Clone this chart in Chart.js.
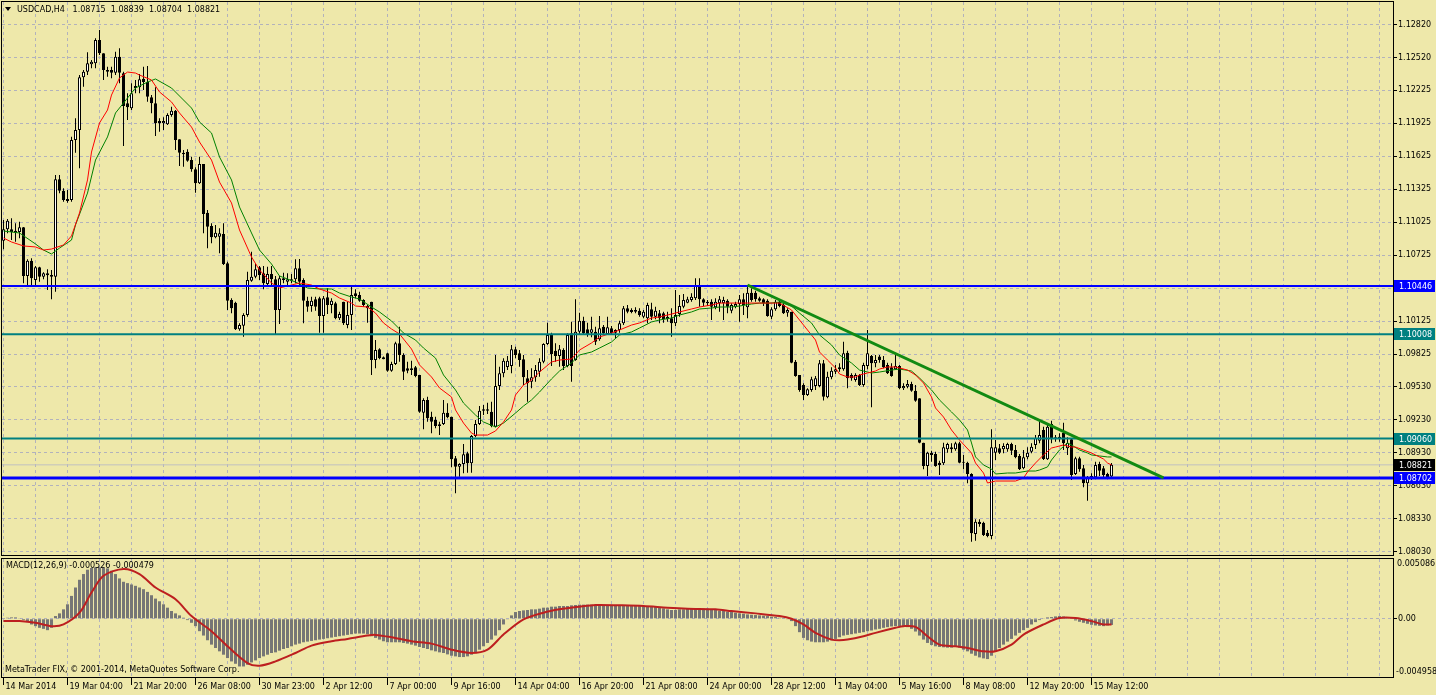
<!DOCTYPE html>
<html>
<head>
<meta charset="utf-8">
<script src="https://cdn.jsdelivr.net/npm/chart.js@4.4.1/dist/chart.umd.min.js"></script>
<style>
  html, body { margin: 0; padding: 0; background: #EEE8AA; }
  #wrap { position: relative; width: 1436px; height: 695px; background: #EEE8AA; overflow: hidden; }
  canvas { position: absolute; left: 0; }
  #priceChart { top: 0; }
  #macdChart { top: 557px; }
</style>
</head>
<body>
<div id="wrap">
  <canvas id="priceChart" width="1436" height="557"></canvas>
  <canvas id="macdChart" width="1436" height="138"></canvas>
</div>
<script>
// USDCAD H4 candles (bar index 0 = first visible bar)
const openPrices = [
  1.10859,1.10962,1.10962,1.10950,1.10938,1.10981,1.10538,1.10677,1.10502,1.10617,
  1.10532,1.10562,1.10547,1.10532,1.11417,1.11313,1.11238,1.11229,1.11774,1.11865,
  1.12344,1.12395,1.12462,1.12472,1.12683,1.12562,1.12411,1.12411,1.12386,1.12532,
  1.12381,1.12108,1.12062,1.12265,1.12253,1.12331,1.12304,1.12162,1.12108,1.11947,
  1.11926,1.11917,1.12002,1.12041,1.11781,1.11659,1.11668,1.11592,1.11508,1.11380,
  1.11556,1.11113,1.10992,1.10890,1.10895,1.10920,1.10653,1.10320,1.10295,1.10053,
  1.10086,1.10183,1.10495,1.10532,1.10617,1.10562,1.10465,1.10556,1.10508,1.10229,
  1.10517,1.10486,1.10508,1.10508,1.10608,1.10502,1.10313,1.10265,1.10326,1.10335,
  1.10174,1.10344,1.10274,1.10290,1.10153,1.10304,1.10092,1.10183,1.10380,1.10365,
  1.10320,1.10244,1.10304,1.09774,1.09871,1.09799,1.09835,1.09677,1.09738,1.09926,
  1.09820,1.09699,1.09699,1.09708,1.09638,1.09295,1.09411,1.09259,1.09229,1.09190,
  1.09192,1.09295,1.09259,1.08881,1.08804,1.08829,1.08926,1.08835,1.09083,1.09192,
  1.09326,1.09313,1.09304,1.09168,1.09538,1.09653,1.09710,1.09720,1.09871,1.09835,
  1.09780,1.09608,1.09577,1.09617,1.09668,1.09759,1.09920,1.10011,1.09859,1.09811,
  1.09865,1.09720,1.10017,1.09774,1.10032,1.10132,1.10053,1.10022,1.10032,1.09963,
  1.10077,1.10011,1.10062,1.10022,1.10047,1.10108,1.10244,1.10229,1.10229,1.10222,
  1.10168,1.10153,1.10235,1.10168,1.10199,1.10199,1.10168,1.10153,1.10108,1.10192,
  1.10259,1.10295,1.10320,1.10335,1.10456,1.10326,1.10304,1.10304,1.10253,1.10290,
  1.10290,1.10313,1.10222,1.10259,1.10283,1.10326,1.10253,1.10386,1.10386,1.10335,
  1.10326,1.10313,1.10168,1.10235,1.10304,1.10274,1.10204,1.10214,1.09759,1.09638,
  1.09547,1.09456,1.09502,1.09538,1.09538,1.09744,1.09435,1.09617,1.09668,1.09708,
  1.09690,1.09841,1.09638,1.09592,1.09638,1.09547,1.09720,1.09811,1.09744,1.09805,
  1.09774,1.09729,1.09708,1.09690,1.09720,1.09517,1.09532,1.09556,1.09495,1.09426,
  1.09022,1.08811,1.08932,1.08920,1.08841,1.08835,1.08963,1.08981,1.08963,1.09017,
  1.08850,1.08841,1.08738,1.08192,1.08304,1.08295,1.08204,1.08174,1.08932,1.08972,
  1.08963,1.08963,1.09011,1.08956,1.08901,1.08790,1.08890,1.08941,1.09002,1.09041,
  1.09138,1.08872,1.09192,1.09071,1.09077,1.09113,1.08972,1.09053,1.08738,1.08881,
  1.08790,1.08653,1.08720,1.08708,1.08829,1.08790,1.08738,1.08715
];
const highPrices = [
  1.11047,1.11056,1.11063,1.11017,1.11032,1.10983,1.10690,1.10699,1.10629,1.10622,
  1.10572,1.10599,1.10592,1.11456,1.11456,1.11335,1.11320,1.11804,1.11972,1.12365,
  1.12411,1.12572,1.12502,1.12699,1.12774,1.12562,1.12441,1.12441,1.12577,1.12608,
  1.12395,1.12199,1.12290,1.12320,1.12374,1.12441,1.12447,1.12183,1.12253,1.11971,
  1.11981,1.12017,1.12077,1.12047,1.11781,1.11683,1.11690,1.11622,1.11526,1.11622,
  1.11556,1.11138,1.11017,1.11002,1.10972,1.11017,1.10668,1.10335,1.10304,1.10108,
  1.10199,1.10577,1.10759,1.10653,1.10629,1.10629,1.10622,1.10629,1.10538,1.10538,
  1.10568,1.10562,1.10556,1.10690,1.10692,1.10517,1.10350,1.10350,1.10350,1.10350,
  1.10356,1.10426,1.10335,1.10304,1.10214,1.10304,1.10304,1.10441,1.10417,1.10395,
  1.10326,1.10274,1.10304,1.09956,1.09880,1.09805,1.09841,1.09759,1.09941,1.10077,
  1.09835,1.09759,1.09768,1.09720,1.09638,1.09426,1.09441,1.09304,1.09259,1.09213,
  1.09411,1.09380,1.09259,1.08902,1.08835,1.09011,1.08941,1.09092,1.09229,1.09356,
  1.09365,1.09386,1.09395,1.09820,1.09714,1.09790,1.09811,1.09911,1.09895,1.09865,
  1.09820,1.09683,1.09699,1.09729,1.09790,1.09926,1.10113,1.10022,1.09926,1.09911,
  1.09880,1.10017,1.10122,1.10326,1.10204,1.10168,1.10114,1.10168,1.10077,1.10174,
  1.10092,1.10168,1.10083,1.10053,1.10132,1.10265,1.10274,1.10244,1.10253,1.10244,
  1.10229,1.10295,1.10295,1.10259,1.10229,1.10214,1.10214,1.10244,1.10411,1.10365,
  1.10374,1.10350,1.10380,1.10517,1.10517,1.10335,1.10320,1.10326,1.10335,1.10356,
  1.10350,1.10326,1.10290,1.10304,1.10365,1.10380,1.10456,1.10426,1.10404,1.10350,
  1.10335,1.10326,1.10253,1.10320,1.10326,1.10290,1.10244,1.10214,1.09774,1.09638,
  1.09562,1.09517,1.09623,1.09629,1.09774,1.09774,1.09668,1.09708,1.09729,1.09744,
  1.09941,1.09859,1.09653,1.09653,1.09647,1.09750,1.10047,1.09820,1.09820,1.09820,
  1.09811,1.09750,1.09744,1.09829,1.09729,1.09562,1.09592,1.09577,1.09547,1.09426,
  1.09022,1.08941,1.08950,1.08941,1.08859,1.09022,1.09022,1.09017,1.09032,1.09032,
  1.08911,1.08850,1.08744,1.08326,1.08326,1.08304,1.08229,1.09144,1.09047,1.09011,
  1.09017,1.09022,1.09022,1.09002,1.08920,1.08956,1.08981,1.09017,1.09092,1.09229,
  1.09168,1.09199,1.09223,1.09092,1.09108,1.09204,1.09071,1.09062,1.08895,1.08895,
  1.08820,1.08720,1.08744,1.08850,1.08850,1.08811,1.08750,1.08839
];
const lowPrices = [
  1.10781,1.10926,1.10865,1.10850,1.10881,1.10471,1.10441,1.10441,1.10441,1.10486,
  1.10508,1.10411,1.10326,1.10395,1.11290,1.11213,1.11204,1.11213,1.11659,1.11517,
  1.12259,1.12365,1.12426,1.12426,1.12547,1.12320,1.12350,1.12335,1.12365,1.12290,
  1.11720,1.11956,1.12047,1.12199,1.12199,1.12229,1.12122,1.12017,1.11811,1.11850,
  1.11865,1.11911,1.11986,1.11683,1.11538,1.11532,1.11577,1.11486,1.11295,1.11374,
  1.10926,1.10790,1.10835,1.10881,1.10744,1.10638,1.10229,1.10199,1.10047,1.10041,
  1.09986,1.10168,1.10486,1.10517,1.10502,1.10417,1.10441,1.10456,1.10002,1.10102,
  1.10471,1.10456,1.10471,1.10471,1.10456,1.10108,1.10214,1.10214,1.10222,1.10022,
  1.10022,1.10192,1.10199,1.10144,1.10138,1.10092,1.10062,1.10047,1.10335,1.10304,
  1.10259,1.10114,1.09638,1.09699,1.09781,1.09781,1.09668,1.09668,1.09729,1.09759,
  1.09592,1.09653,1.09638,1.09617,1.09295,1.09144,1.09213,1.09108,1.09153,1.09092,
  1.09183,1.09244,1.08799,1.08562,1.08713,1.08744,1.08750,1.08750,1.09071,1.09183,
  1.09274,1.09283,1.09162,1.09162,1.09502,1.09617,1.09683,1.09653,1.09790,1.09714,
  1.09547,1.09395,1.09517,1.09577,1.09623,1.09744,1.09911,1.09720,1.09759,1.09714,
  1.09683,1.09708,1.09577,1.09768,1.10002,1.10002,1.09986,1.09980,1.09911,1.09950,
  1.10002,1.10002,1.10002,1.09971,1.10022,1.10092,1.10199,1.10199,1.10199,1.10168,
  1.10153,1.10108,1.10138,1.10144,1.10108,1.10114,1.10122,1.09986,1.10083,1.10168,
  1.10244,1.10290,1.10304,1.10320,1.10259,1.10265,1.10265,1.10138,1.10235,1.10214,
  1.10138,1.10199,1.10199,1.10244,1.10122,1.10183,1.10153,1.10304,1.10304,1.10304,
  1.10265,1.10168,1.10144,1.10222,1.10253,1.10192,1.10168,1.09744,1.09623,1.09486,
  1.09411,1.09447,1.09486,1.09502,1.09526,1.09405,1.09426,1.09599,1.09647,1.09668,
  1.09677,1.09517,1.09586,1.09577,1.09538,1.09532,1.09690,1.09344,1.09708,1.09750,
  1.09699,1.09647,1.09623,1.09683,1.09508,1.09502,1.09517,1.09486,1.09395,1.09017,
  1.08781,1.08720,1.08850,1.08804,1.08729,1.08820,1.08932,1.08932,1.08950,1.08835,
  1.08781,1.08653,1.08122,1.08132,1.08259,1.08174,1.08162,1.08144,1.08865,1.08920,
  1.08926,1.08941,1.08911,1.08881,1.08774,1.08781,1.08872,1.08926,1.08965,1.09017,
  1.08865,1.08865,1.09017,1.09032,1.09032,1.08956,1.08911,1.08683,1.08729,1.08759,
  1.08617,1.08495,1.08683,1.08690,1.08720,1.08708,1.08690,1.08704
];
const closePrices = [
  1.10962,1.11041,1.10938,1.10930,1.10981,1.10538,1.10677,1.10517,1.10617,1.10532,
  1.10562,1.10544,1.10532,1.11417,1.11313,1.11229,1.11220,1.11774,1.11865,1.12344,
  1.12395,1.12472,1.12486,1.12683,1.12562,1.12411,1.12395,1.12386,1.12532,1.12386,
  1.12083,1.12072,1.12199,1.12247,1.12326,1.12301,1.12168,1.12108,1.11926,1.11926,
  1.11947,1.12002,1.12041,1.11774,1.11659,1.11644,1.11586,1.11508,1.11380,1.11556,
  1.11101,1.10986,1.10890,1.10931,1.10926,1.10647,1.10313,1.10244,1.10053,1.10092,
  1.10183,1.10502,1.10532,1.10599,1.10547,1.10471,1.10556,1.10508,1.10229,1.10517,
  1.10502,1.10508,1.10495,1.10608,1.10486,1.10313,1.10259,1.10313,1.10259,1.10174,
  1.10335,1.10274,1.10313,1.10153,1.10192,1.10108,1.10183,1.10365,1.10356,1.10313,
  1.10274,1.10265,1.09774,1.09865,1.09790,1.09781,1.09677,1.09738,1.09926,1.09820,
  1.09668,1.09677,1.09683,1.09629,1.09304,1.09411,1.09244,1.09213,1.09174,1.09174,
  1.09295,1.09253,1.08872,1.08804,1.08829,1.08917,1.08835,1.09083,1.09192,1.09313,
  1.09313,1.09326,1.09174,1.09538,1.09653,1.09768,1.09768,1.09871,1.09820,1.09774,
  1.09617,1.09562,1.09617,1.09683,1.09759,1.09920,1.10002,1.09829,1.09811,1.09871,
  1.09720,1.10002,1.09720,1.10032,1.10132,1.10017,1.10011,1.10053,1.09941,1.10062,
  1.10017,1.10072,1.10017,1.10047,1.10108,1.10244,1.10214,1.10211,1.10214,1.10183,
  1.10214,1.10274,1.10168,1.10222,1.10153,1.10144,1.10144,1.10108,1.10183,1.10265,
  1.10320,1.10326,1.10350,1.10456,1.10326,1.10295,1.10290,1.10259,1.10304,1.10326,
  1.10320,1.10259,1.10274,1.10283,1.10326,1.10274,1.10386,1.10320,1.10326,1.10313,
  1.10290,1.10174,1.10235,1.10304,1.10265,1.10199,1.10229,1.09750,1.09629,1.09502,
  1.09456,1.09508,1.09599,1.09608,1.09744,1.09441,1.09623,1.09677,1.09690,1.09690,
  1.09835,1.09608,1.09608,1.09638,1.09547,1.09729,1.09835,1.09744,1.09774,1.09774,
  1.09708,1.09653,1.09629,1.09720,1.09517,1.09538,1.09556,1.09495,1.09404,1.09022,
  1.08811,1.08932,1.08911,1.08811,1.08820,1.08981,1.09011,1.08963,1.09017,1.08841,
  1.08841,1.08738,1.08199,1.08304,1.08283,1.08184,1.08174,1.08981,1.08981,1.08932,
  1.08992,1.09011,1.08950,1.08890,1.08781,1.08890,1.08932,1.08986,1.09065,1.09092,
  1.08875,1.09168,1.09053,1.09053,1.09053,1.09017,1.09022,1.08729,1.08881,1.08781,
  1.08653,1.08708,1.08699,1.08820,1.08768,1.08729,1.08708,1.08821
];

// moving averages, read at points along the lines: [bar index, price]
const fastMa = [
  [0,1.10883],[2,1.10847],[5,1.10811],[8,1.10802],[10,1.10774],[12,1.10783],[15,1.10820],[17,1.10902],
  [19,1.11111],[21,1.11411],[22,1.11665],[24,1.11929],[26,1.12047],[27,1.12183],[29,1.12338],[31,1.12392],
  [33,1.12383],[34,1.12365],[37,1.12320],[39,1.12211],[42,1.12120],[44,1.12020],[47,1.11892],[49,1.11756],
  [52,1.11592],[54,1.11392],[57,1.11202],[59,1.10956],[62,1.10711],[64,1.10592],[67,1.10474],[69,1.10429],
  [72,1.10456],[74,1.10474],[77,1.10456],[79,1.10420],[82,1.10383],[84,1.10338],[87,1.10292],[88,1.10265],
  [91,1.10256],[93,1.10201],[95,1.10111],[97,1.10056],[99,1.10011],[102,1.09874],[104,1.09729],[107,1.09620],
  [109,1.09520],[112,1.09438],[113,1.09320],[115,1.09201],[117,1.09110],[118,1.09092],[121,1.09092],[123,1.09129],
  [125,1.09211],[127,1.09320],[128,1.09456],[130,1.09547],[132,1.09592],[134,1.09665],[137,1.09756],[139,1.09774],
  [142,1.09783],[144,1.09865],[147,1.09929],[149,1.09983],[152,1.10020],[154,1.10047],[157,1.10092],[159,1.10111],
  [162,1.10156],[164,1.10165],[167,1.10192],[169,1.10211],[172,1.10238],[174,1.10256],[177,1.10274],[179,1.10292],
  [184,1.10292],[194,1.10292],[197,1.10229],[199,1.10138],[201,1.10047],[203,1.09956],[204,1.09847],[206,1.09774],
  [208,1.09702],[209,1.09647],[211,1.09620],[213,1.09620],[214,1.09638],[216,1.09656],[218,1.09674],[219,1.09692],
  [221,1.09711],[223,1.09711],[224,1.09702],[226,1.09683],[228,1.09638],[230,1.09565],[232,1.09438],[233,1.09338],
  [235,1.09256],[237,1.09138],[239,1.09047],[242,1.08929],[243,1.08838],[245,1.08747],[246,1.08656],[248,1.08674],
  [253,1.08674],[255,1.08701],[256,1.08756],[258,1.08838],[260,1.08911],[262,1.08974],[263,1.08983],[265,1.09002],
  [267,1.08983],[268,1.08983],[270,1.08956],[272,1.08929],[273,1.08911],[275,1.08874],[276,1.08838],[277,1.08820]
];
const slowMa = [
  [0,1.10947],[4,1.10929],[8,1.10829],[10,1.10774],[12,1.10738],[14,1.10792],[17,1.10865],[18,1.11002],
  [21,1.11292],[23,1.11592],[26,1.11802],[28,1.12020],[31,1.12156],[33,1.12247],[36,1.12301],[38,1.12329],
  [42,1.12247],[47,1.12065],[49,1.11938],[52,1.11838],[54,1.11620],[57,1.11411],[59,1.11165],[62,1.10929],
  [64,1.10774],[67,1.10647],[69,1.10538],[73,1.10483],[76,1.10429],[79,1.10420],[82,1.10420],[84,1.10383],
  [87,1.10347],[89,1.10329],[92,1.10256],[94,1.10211],[97,1.10129],[100,1.10020],[103,1.09956],[105,1.09883],
  [108,1.09792],[110,1.09638],[113,1.09502],[115,1.09383],[118,1.09274],[120,1.09211],[123,1.09165],[125,1.09201],
  [128,1.09292],[130,1.09356],[132,1.09411],[134,1.09483],[137,1.09602],[139,1.09674],[142,1.09747],[144,1.09820],
  [147,1.09847],[149,1.09883],[152,1.09938],[154,1.10002],[157,1.10029],[159,1.10065],[162,1.10120],[164,1.10138],
  [167,1.10156],[169,1.10183],[172,1.10211],[174,1.10238],[177,1.10247],[179,1.10256],[182,1.10256],[184,1.10265],
  [187,1.10283],[189,1.10292],[192,1.10292],[194,1.10301],[197,1.10265],[199,1.10201],[202,1.10111],[204,1.10002],
  [207,1.09911],[209,1.09820],[212,1.09747],[214,1.09683],[217,1.09656],[219,1.09665],[222,1.09683],[224,1.09692],
  [227,1.09674],[229,1.09611],[232,1.09502],[234,1.09411],[237,1.09302],[239,1.09229],[241,1.09138],[242,1.09020],
  [243,1.08893],[245,1.08820],[247,1.08783],[248,1.08738],[251,1.08747],[253,1.08747],[256,1.08765],[258,1.08765],
  [259,1.08774],[261,1.08802],[262,1.08865],[264,1.08956],[266,1.09020],[267,1.09002],[269,1.08956],[271,1.08929],
  [272,1.08911],[274,1.08902],[276,1.08893],[277,1.08893]
];

// MACD(12,26,9): main histogram per bar, signal read at points
const macdHist = [
  0.000057,0.000086,0.000114,0.000114,0.000057,-0.000114,-0.000286,-0.000486,-0.000629,-0.000772,
  -0.000858,-0.000972,-0.000772,0.000229,0.000458,0.000801,0.001230,0.001945,0.002660,0.003318,
  0.003804,0.004176,0.004319,0.004376,0.004376,0.004347,0.004290,0.004090,0.003804,0.003432,
  0.003146,0.003032,0.002917,0.002803,0.002660,0.002517,0.002288,0.002002,0.001716,0.001487,
  0.001230,0.000944,0.000658,0.000458,0.000286,0.000086,-0.000114,-0.000343,-0.000629,-0.001058,
  -0.001430,-0.001830,-0.002202,-0.002488,-0.002774,-0.003060,-0.003346,-0.003632,-0.003832,-0.004061,
  -0.004061,-0.003918,-0.003718,-0.003546,-0.003346,-0.003203,-0.003060,-0.002917,-0.002860,-0.002717,
  -0.002574,-0.002488,-0.002345,-0.002202,-0.002116,-0.002002,-0.001945,-0.001888,-0.001830,-0.001773,
  -0.001716,-0.001659,-0.001602,-0.001544,-0.001487,-0.001430,-0.001373,-0.001316,-0.001258,-0.001258,
  -0.001258,-0.001316,-0.001487,-0.001630,-0.001773,-0.001916,-0.002002,-0.002002,-0.002002,-0.002002,
  -0.002059,-0.002116,-0.002202,-0.002288,-0.002402,-0.002488,-0.002574,-0.002688,-0.002774,-0.002860,
  -0.002917,-0.003032,-0.003146,-0.003203,-0.003260,-0.003260,-0.003203,-0.003060,-0.002860,-0.002631,
  -0.002345,-0.002059,-0.001773,-0.001430,-0.000972,-0.000486,-0.000057,0.000286,0.000572,0.000658,
  0.000715,0.000744,0.000801,0.000801,0.000858,0.000944,0.000944,0.001030,0.001030,0.001087,
  0.001087,0.001087,0.001144,0.001173,0.001201,0.001201,0.001201,0.001201,0.001173,0.001173,
  0.001144,0.001144,0.001144,0.001115,0.001115,0.001144,0.001173,0.001144,0.001144,0.001115,
  0.001087,0.001087,0.001030,0.001001,0.000944,0.000887,0.000801,0.000744,0.000744,0.000801,
  0.000801,0.000858,0.000858,0.000887,0.000887,0.000858,0.000858,0.000801,0.000744,0.000686,
  0.000658,0.000601,0.000572,0.000515,0.000458,0.000429,0.000372,0.000343,0.000315,0.000286,
  0.000257,0.000229,0.000172,0.000143,0.000086,0.000029,-0.000057,-0.000200,-0.000629,-0.001144,
  -0.001630,-0.001830,-0.001945,-0.002002,-0.002002,-0.002002,-0.001945,-0.001830,-0.001716,-0.001573,
  -0.001430,-0.001373,-0.001316,-0.001258,-0.001201,-0.001144,-0.001058,-0.001001,-0.000915,-0.000858,
  -0.000772,-0.000715,-0.000658,-0.000629,-0.000629,-0.000658,-0.000715,-0.000858,-0.001087,-0.001430,
  -0.001773,-0.002059,-0.002231,-0.002345,-0.002402,-0.002431,-0.002460,-0.002460,-0.002402,-0.002460,
  -0.002631,-0.002774,-0.002974,-0.003146,-0.003289,-0.003375,-0.003432,-0.003146,-0.002774,-0.002488,
  -0.002202,-0.001945,-0.001716,-0.001430,-0.001201,-0.000972,-0.000772,-0.000486,-0.000286,-0.000114,
  0.000029,0.000114,0.000143,0.000200,0.000229,0.000200,0.000114,0.000000,-0.000143,-0.000257,
  -0.000343,-0.000429,-0.000515,-0.000572,-0.000601,-0.000629,-0.000572,-0.000526
];
const macdSignal = [
  [0,-0.000200],[4,-0.000200],[8,-0.000343],[12,-0.000629],[15,-0.000486],[19,0.000515],[22,0.002231],
  [25,0.003661],[30,0.004233],[34,0.003804],[38,0.002660],[43,0.001659],[47,0.000229],[52,-0.001058],
  [56,-0.002345],[61,-0.003775],[64,-0.004004],[68,-0.003632],[73,-0.002917],[77,-0.002288],[82,-0.001916],
  [86,-0.001716],[91,-0.001430],[93,-0.001373],[97,-0.001573],[102,-0.001916],[107,-0.002116],[112,-0.002631],
  [117,-0.002917],[121,-0.002631],[125,-0.001344],[130,-0.000057],[135,0.000515],[139,0.000801],[144,0.001030],
  [148,0.001173],[154,0.001144],[160,0.001087],[166,0.000944],[171,0.000858],[178,0.000801],[182,0.000658],
  [188,0.000458],[194,0.000229],[197,0.000000],[200,-0.000486],[203,-0.001201],[207,-0.001773],[209,-0.001830],
  [211,-0.001773],[215,-0.001487],[218,-0.001201],[223,-0.000772],[225,-0.000629],[228,-0.000686],[231,-0.001487],
  [234,-0.002202],[238,-0.002345],[241,-0.002488],[245,-0.002774],[248,-0.002774],[252,-0.002202],[255,-0.001344],
  [260,-0.000486],[264,0.000057],[268,0.000057],[272,-0.000200],[275,-0.000486],[277,-0.000479]
];

// axis texts
const priceLabels = ['1.12820','1.12520','1.12225','1.11925','1.11625','1.11325','1.11025','1.10725','1.10425',
  '1.10125','1.09825','1.09530','1.09230','1.08930','1.08630','1.08330','1.08030'];
const timeLabels = ['14 Mar 2014','19 Mar 04:00','21 Mar 20:00','26 Mar 08:00','30 Mar 23:00','2 Apr 12:00',
  '7 Apr 00:00','9 Apr 16:00','14 Apr 04:00','16 Apr 20:00','21 Apr 08:00','24 Apr 00:00','28 Apr 12:00',
  '1 May 04:00','5 May 16:00','8 May 08:00','12 May 20:00','15 May 12:00'];
const macdRange = [-0.004958, 0.005086];

// horizontal levels, trend line and current bid
const levels = [1.10446, 1.10008, 1.09060, 1.08702];
const levelColors = ['#0000ff', '#008080', '#008080', '#0000ff'];
const levelWidths = [2, 2, 2, 3];
const trendLine = [[186, 1.10456], [290, 1.08702]];
const lastPrice = 1.08821;

const titleText = 'USDCAD,H4   1.08715  1.08839  1.08704  1.08821';
const macdTitle = 'MACD(12,26,9) -0.000526 -0.000479';
const copyright = 'MetaTrader FIX, \u00A9 2001-2014, MetaQuotes Software Corp.';

const FONT = '"DejaVu Sans"';
Chart.defaults.font.family = FONT;
Chart.defaults.font.size = 8;
Chart.defaults.color = '#000';
Chart.defaults.animation = false;

const GRID = '#b2b2bc';
const X_MIN = -0.375, X_MAX = 347.375;   // 4 px per bar
const gridTicks = [];
for (let v = 0; v <= 344; v += 8) gridTicks.push(v);

// chart.js pads the plot for edge labels; the panels here are flush
function noPad(s) {
    s.paddingTop = 0;
    s.paddingBottom = 0;
    s.paddingLeft = 0;
    s.paddingRight = 0;
}

const frame = {
    id: 'frame',
    afterDraw(chart) {
        const { ctx, chartArea: a } = chart;
        ctx.save();
        ctx.strokeStyle = '#000';
        ctx.lineWidth = 1;
        ctx.strokeRect(a.left - 0.5, a.top - 0.5, a.right - a.left + 1, a.bottom - a.top + 1);
        ctx.restore();
    }
};

const priceOverlay = {
    id: 'priceOverlay',
    afterDraw(chart) {
        const { ctx } = chart;
        const y = chart.scales.y;
        ctx.save();
        ctx.font = '8px ' + FONT;
        ctx.textBaseline = 'middle';
        ctx.fillStyle = '#000';
        ctx.beginPath();
        ctx.moveTo(5, 7); ctx.lineTo(11, 7); ctx.lineTo(8, 11); ctx.closePath();
        ctx.fill();
        ctx.fillText(titleText, 17, 9.5);

        const marks = levels.map((v, i) => ({ v, c: levelColors[i] }));
        marks.splice(3, 0, { v: lastPrice, c: '#000' });
        marks.forEach(m => {
            const py = Math.round(y.getPixelForValue(m.v));
            ctx.fillStyle = m.c;
            ctx.fillRect(1394, py - 6, 41, 12);
            ctx.fillStyle = '#fff';
            ctx.fillText(m.v.toFixed(5), 1399, py + 0.5);
        });
        ctx.restore();
    }
};

const macdOverlay = {
    id: 'macdOverlay',
    afterDraw(chart) {
        const { ctx, chartArea: a } = chart;
        ctx.save();
        ctx.font = '8px ' + FONT;
        ctx.textBaseline = 'middle';
        ctx.fillStyle = '#000';
        ctx.fillText(macdTitle, 6, a.top + 7);
        ctx.fillText(copyright, 5, a.bottom - 7);
        ctx.fillText(macdRange[1].toFixed(6), a.right + 4, a.top + 5);
        ctx.fillText(macdRange[0].toFixed(6), a.right + 3, a.bottom - 5);
        ctx.restore();
    }
};

const bars = openPrices.map((_, i) => i);

new Chart(document.getElementById('priceChart'), {
    type: 'line',
    data: {
        datasets: [
            {
                type: 'bar',
                data: bars.map(i => ({ x: i, y: [lowPrices[i], highPrices[i]] })),
                backgroundColor: '#000',
                barThickness: 1,
                grouped: false,
                inflateAmount: 0,
                order: 6
            },
            {
                type: 'bar',
                data: bars.map(i => ({ x: i, y: [openPrices[i], closePrices[i]] })),
                backgroundColor: ctx => closePrices[ctx.dataIndex] >= openPrices[ctx.dataIndex] ? '#fff' : '#000',
                borderColor: '#000',
                borderWidth: 1,
                borderSkipped: false,
                barThickness: 3,
                minBarLength: 1,
                grouped: false,
                inflateAmount: 0,
                order: 5
            },
            {
                data: [{ x: X_MIN, y: lastPrice }, { x: X_MAX, y: lastPrice }],
                borderColor: '#c0c0c0', borderWidth: 1, pointRadius: 0, order: 7
            },
            {
                data: slowMa.map(([x, y]) => ({ x, y })),
                borderColor: '#008000', borderWidth: 1, pointRadius: 0, order: 4
            },
            {
                data: fastMa.map(([x, y]) => ({ x, y })),
                borderColor: '#ff0000', borderWidth: 1, pointRadius: 0, order: 3
            },
            ...levels.map((v, i) => ({
                data: [{ x: X_MIN, y: v }, { x: X_MAX, y: v }],
                borderColor: levelColors[i], borderWidth: levelWidths[i], pointRadius: 0, order: 2
            })),
            {
                data: trendLine.map(([x, y]) => ({ x, y })),
                borderColor: '#128a12', borderWidth: 3, pointRadius: 0, order: 1
            }
        ]
    },
    options: {
        responsive: false,
        devicePixelRatio: 1,
        events: [],
        layout: { padding: { left: 2, top: 2, right: 0, bottom: 2 } },
        plugins: { legend: { display: false }, tooltip: { enabled: false } },
        scales: {
            x: {
                type: 'linear',
                min: X_MIN,
                max: X_MAX,
                offset: false,
                afterBuildTicks: s => { s.ticks = gridTicks.map(v => ({ value: v })); },
                afterFit: s => { s.height = 0; noPad(s); },
                ticks: { display: false },
                grid: { color: GRID, drawTicks: false, offset: false },
                border: { display: false, dash: [3, 3] }
            },
            y: {
                position: 'right',
                min: 1.13047 - 555 / 11000,
                max: 1.13047 - 2 / 11000,
                afterBuildTicks: s => { s.ticks = priceLabels.map(t => ({ value: parseFloat(t) })); },
                afterFit: s => { s.width = 43; noPad(s); },
                ticks: {
                    autoSkip: false,
                    padding: 1,
                    callback: (v, i) => priceLabels[i]
                },
                grid: { color: GRID, tickLength: 4, tickColor: '#000' },
                border: { display: false, dash: [3, 3] }
            }
        }
    },
    plugins: [frame, priceOverlay]
});

new Chart(document.getElementById('macdChart'), {
    type: 'line',
    data: {
        datasets: [
            {
                type: 'bar',
                data: macdHist.map((v, i) => ({ x: i, y: v })),
                backgroundColor: '#767676',
                barThickness: 3,
                grouped: false,
                inflateAmount: 0,
                order: 2
            },
            {
                data: macdSignal.map(([x, y]) => ({ x, y })),
                borderColor: '#bd1f1f', borderWidth: 2, pointRadius: 0, tension: 0.3, order: 1
            }
        ]
    },
    options: {
        responsive: false,
        devicePixelRatio: 1,
        events: [],
        layout: { padding: { left: 2, top: 2, right: 0, bottom: 0 } },
        plugins: { legend: { display: false }, tooltip: { enabled: false } },
        scales: {
            x: {
                type: 'linear',
                min: X_MIN,
                max: X_MAX,
                offset: false,
                afterBuildTicks: s => { s.ticks = gridTicks.map(v => ({ value: v })); },
                afterFit: s => { s.height = 18; noPad(s); },
                ticks: {
                    autoSkip: false,
                    maxRotation: 0,
                    align: 'start',
                    labelOffset: 2,
                    padding: -3,
                    callback: v => (v % 16 === 0 && v / 16 < timeLabels.length) ? timeLabels[v / 16] : ''
                },
                grid: {
                    color: GRID,
                    offset: false,
                    tickLength: 8,
                    tickColor: ctx => (ctx.tick && ctx.tick.value % 16 === 0 && ctx.tick.value / 16 < timeLabels.length) ? '#000' : 'rgba(0,0,0,0)'
                },
                border: { display: false, dash: [3, 3] }
            },
            y: {
                position: 'right',
                min: macdRange[0],
                max: macdRange[1],
                afterBuildTicks: s => { s.ticks = [{ value: 0 }]; },
                afterFit: s => { s.width = 43; noPad(s); },
                ticks: { padding: 1, callback: () => '0.00' },
                grid: { color: GRID, tickLength: 4, tickColor: '#000' },
                border: { display: false, dash: [3, 3] }
            }
        }
    },
    plugins: [frame, macdOverlay]
});
</script>
</body>
</html>
